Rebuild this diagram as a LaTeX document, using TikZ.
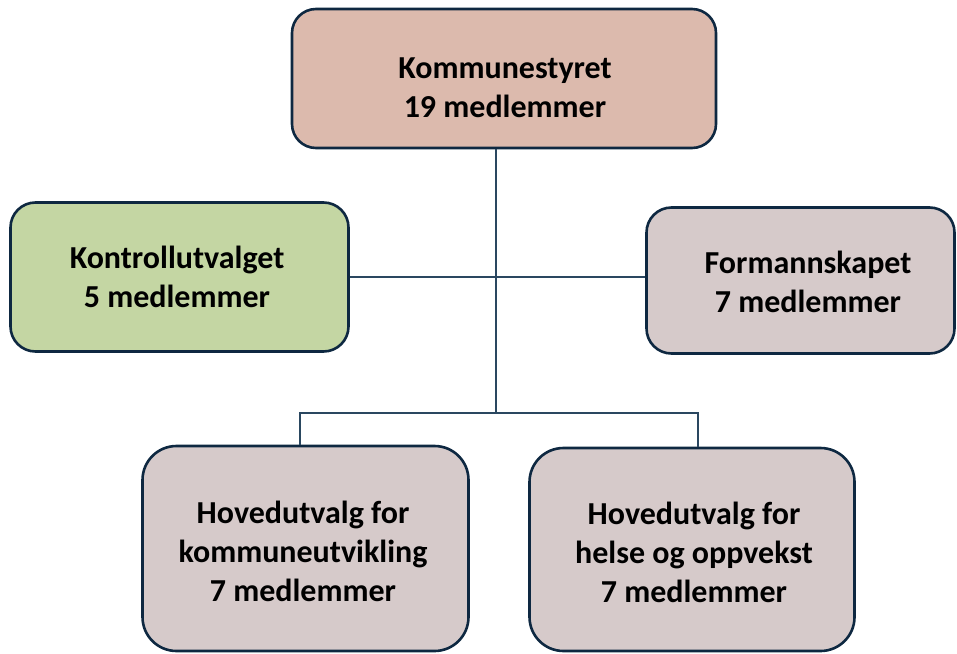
\documentclass[tikz,border=0pt]{standalone}
\usepackage{fontspec}
\setmainfont{Carlito}
\definecolor{bordc}{HTML}{0E2841}
\definecolor{linec}{HTML}{2A4760}
\definecolor{rosec}{HTML}{DCBAAD}
\definecolor{greenc}{HTML}{C4D6A3}
\definecolor{mauvec}{HTML}{D6CACA}
\tikzset{
  orgbox/.style={draw=bordc, line width=2.6pt, rectangle, inner sep=0pt},
  orgtext/.style={inner sep=0pt, align=center, font=\fontsize{32}{39}\selectfont\bfseries, text=black},
  conn/.style={draw=linec, line width=1.3pt}
}
\begin{document}
\begin{tikzpicture}[x=1pt,y=-1pt]
\useasboundingbox (0,0) rectangle (957,653);
\fill[white] (0,0) rectangle (957,653);
% boxes
\node[orgbox, fill=rosec, rounded corners=24pt, minimum width=424pt, minimum height=139pt] (top) at (504,78.5) {};
\node[orgbox, fill=greenc, rounded corners=25pt, minimum width=338pt, minimum height=149pt] (kontroll) at (179.5,277) {};
\node[orgbox, fill=mauvec, rounded corners=25pt, minimum width=308pt, minimum height=146pt] (forma) at (800.5,280.5) {};
\node[orgbox, fill=mauvec, rounded corners=34pt, minimum width=326pt, minimum height=205pt] (hk) at (305.5,548.5) {};
\node[orgbox, fill=mauvec, rounded corners=34pt, minimum width=325pt, minimum height=203pt] (hh) at (692,549.5) {};
% texts
\node[orgtext] (ttop) at (505,87.5) {Kommunestyret\\19 medlemmer};
\node[orgtext] (tkontroll) at (177,277) {Kontrollutvalget\\5 medlemmer};
\node[orgtext] (tforma) at (808,282) {Formannskapet\\7 medlemmer};
\node[orgtext] (thk) at (303,551) {Hovedutvalg for\\kommuneutvikling\\7 medlemmer};
\node[orgtext] (thh) at (694,552) {Hovedutvalg for\\helse og oppvekst\\7 medlemmer};
% junctions
\coordinate (j2) at (496,413);
\coordinate (b1) at (300,413);
\coordinate (b2) at (698,413);
% connectors
\draw[conn] (top.south -| j2) -- (j2);
\draw[conn] (kontroll.east) -- (kontroll.east -| forma.west);
\draw[conn] (b1 |- hk.north) -- (b1) -- (b2) -- (b2 |- hh.north);
\end{tikzpicture}
\end{document}
